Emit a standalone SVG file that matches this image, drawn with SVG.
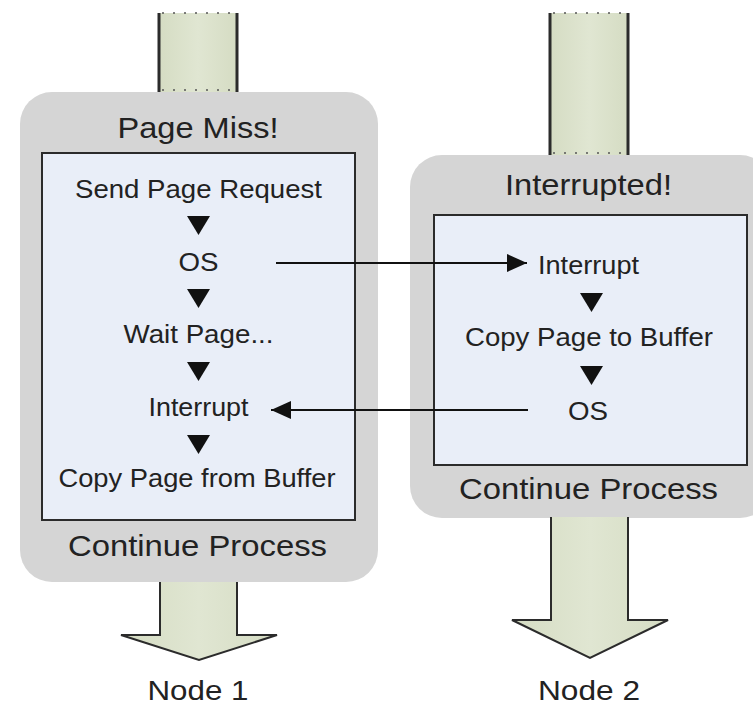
<svg xmlns="http://www.w3.org/2000/svg" width="753" height="707" viewBox="0 0 753 707">
  <defs>
    <linearGradient id="shaft" x1="0" y1="0" x2="1" y2="0">
      <stop offset="0" stop-color="#d5dcc3"/>
      <stop offset="0.5" stop-color="#e0e6d2"/>
      <stop offset="1" stop-color="#d5dcc3"/>
    </linearGradient>
    <marker id="head" viewBox="0 0 20 18" refX="20" refY="9" markerWidth="20" markerHeight="18" markerUnits="userSpaceOnUse" orient="auto">
      <path d="M0,0 L20,9 L0,18 Z" fill="#111"/>
    </marker>
  </defs>
  <style>
    text { font-family: "Liberation Sans", Arial, sans-serif; fill: #222; text-anchor: middle; }
    .title { font-size: 29px; }
    .step { font-size: 25px; }
    .label { font-size: 28px; }
    .outer { fill: #d5d5d5; }
    .inner { fill: #e9eef8; stroke: #2b2b2b; stroke-width: 2; }
    .shaft { fill: url(#shaft); stroke: none; }
    .side { stroke: #2b2b2b; stroke-width: 3; fill: none; }
    .dots { stroke: #555; stroke-width: 1.5; stroke-dasharray: 2 9; fill: none; }
    .down { fill: url(#shaft); stroke: #2b2b2b; stroke-width: 2; stroke-linejoin: miter; }
    .flow { fill: #111; }
    .link { stroke: #111; stroke-width: 2; fill: none; marker-end: url(#head); }
  </style>

  <!-- Node 1: page miss handler -->
  <g id="node1">
    <rect class="shaft" x="159" y="13" width="78" height="80"/>
    <line class="side" x1="159" y1="13" x2="159" y2="92"/>
    <line class="side" x1="237" y1="13" x2="237" y2="92"/>
    <line class="dots" x1="162" y1="13" x2="236" y2="13"/>
    <line class="dots" x1="162" y1="90" x2="236" y2="90"/>
    <rect class="outer" x="20" y="92" width="358" height="490" rx="32" ry="32"/>
    <text class="title" x="198" y="138" textLength="161" lengthAdjust="spacingAndGlyphs">Page Miss!</text>
    <rect class="inner" x="42" y="153" width="313" height="367"/>
    <text class="step" x="198.5" y="198" textLength="247" lengthAdjust="spacingAndGlyphs">Send Page Request</text>
    <path class="flow" d="M187,216 L210,216 L198.5,235 Z"/>
    <text class="step" x="198.5" y="271" textLength="40" lengthAdjust="spacingAndGlyphs">OS</text>
    <path class="flow" d="M187,289 L210,289 L198.5,308 Z"/>
    <text class="step" x="198.5" y="343" textLength="150" lengthAdjust="spacingAndGlyphs">Wait Page...</text>
    <path class="flow" d="M187,362 L210,362 L198.5,381 Z"/>
    <text class="step" x="198.5" y="416" textLength="100" lengthAdjust="spacingAndGlyphs">Interrupt</text>
    <path class="flow" d="M187,435 L210,435 L198.5,454 Z"/>
    <text class="step" x="197" y="487" textLength="277" lengthAdjust="spacingAndGlyphs">Copy Page from Buffer</text>
    <text class="title" x="197.5" y="556" textLength="259" lengthAdjust="spacingAndGlyphs">Continue Process</text>
    <path class="down" d="M160,582 L160,635 L121,635 L199,660 L277,635 L237,635 L237,582"/>
    <text class="label" x="198" y="700" textLength="101" lengthAdjust="spacingAndGlyphs">Node 1</text>
  </g>

  <!-- Node 2: interrupt handler -->
  <g id="node2">
    <rect class="shaft" x="550" y="13" width="78" height="143"/>
    <line class="side" x1="550" y1="13" x2="550" y2="155"/>
    <line class="side" x1="628" y1="13" x2="628" y2="155"/>
    <line class="dots" x1="553" y1="13" x2="627" y2="13"/>
    <line class="dots" x1="553" y1="153" x2="627" y2="153"/>
    <rect class="outer" x="410" y="155" width="362" height="363" rx="32" ry="32"/>
    <text class="title" x="588.5" y="195" textLength="167" lengthAdjust="spacingAndGlyphs">Interrupted!</text>
    <rect class="inner" x="434" y="215" width="313" height="250"/>
    <text class="step" x="588.5" y="274" textLength="101" lengthAdjust="spacingAndGlyphs">Interrupt</text>
    <path class="flow" d="M580,293 L603,293 L591.5,312 Z"/>
    <text class="step" x="589" y="346" textLength="248" lengthAdjust="spacingAndGlyphs">Copy Page to Buffer</text>
    <path class="flow" d="M580,366 L603,366 L591.5,385 Z"/>
    <text class="step" x="588" y="420" textLength="40" lengthAdjust="spacingAndGlyphs">OS</text>
    <text class="title" x="588.5" y="499" textLength="259" lengthAdjust="spacingAndGlyphs">Continue Process</text>
    <path class="down" d="M551,517 L551,620 L512,620 L590,658 L668,620 L628,620 L628,517"/>
    <text class="label" x="589" y="700" textLength="102" lengthAdjust="spacingAndGlyphs">Node 2</text>
  </g>

  <!-- Messages between the two handlers -->
  <g id="connectors">
    <line class="link" x1="276" y1="263" x2="527" y2="263"/>
    <line class="link" x1="528" y1="410" x2="271" y2="410"/>
  </g>
</svg>
